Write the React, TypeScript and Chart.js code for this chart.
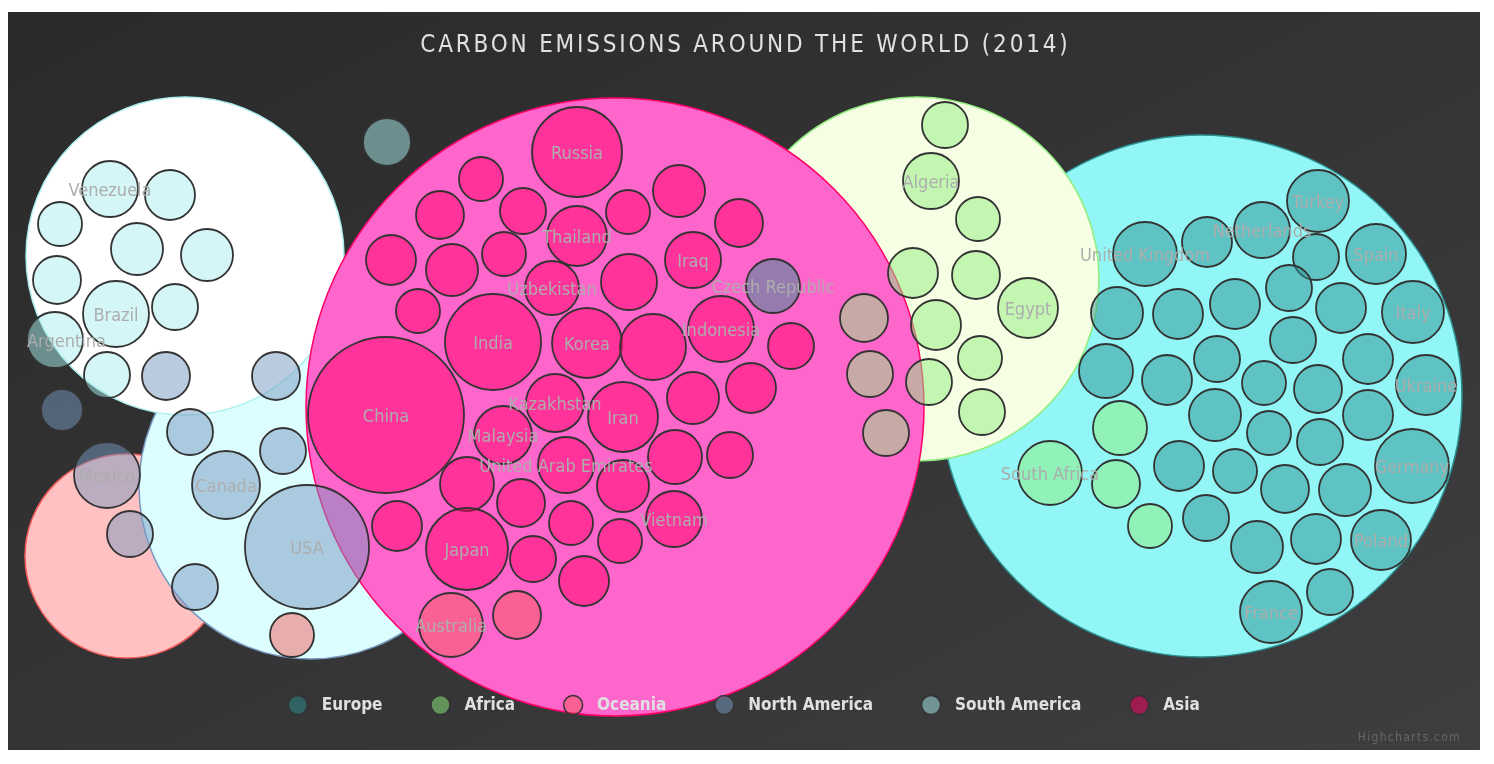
import React, { useEffect, useRef } from 'react';
import Chart from 'chart.js/auto';

type Bubble = [number, number, number, string?];

const regions = ['Europe', 'Africa', 'Oceania', 'North America', 'South America', 'Asia'];
const regionColors = ['#2b908f', '#90ee7e', '#f45b5b', '#7798bf', '#aaeeee', '#ff0066'];

// packed parent circles, one per region
const parentX = [1201, 917, 127, 311, 185, 615];
const parentY = [396, 279, 556, 487, 256, 407];
const parentR = [261, 182, 102, 172, 159, 309];

const europe: Bubble[] = [
  [1145, 254, 32, 'United Kingdom'], [1207, 242, 25], [1262, 230, 28, 'Netherlands'],
  [1318, 201, 31, 'Turkey'], [1316, 257, 23], [1376, 254, 30, 'Spain'],
  [1117, 313, 26], [1178, 314, 25], [1235, 304, 25], [1289, 288, 23], [1341, 308, 25],
  [1413, 312, 31, 'Italy'], [1106, 371, 27], [1167, 380, 25], [1217, 359, 23],
  [1293, 340, 23], [1368, 359, 25], [1264, 383, 22], [1318, 389, 24],
  [1426, 385, 30, 'Ukraine'], [1215, 415, 26], [1269, 433, 22], [1320, 442, 23],
  [1368, 415, 25], [1412, 466, 37, 'Germany'], [1179, 466, 25], [1235, 471, 22],
  [1285, 489, 24], [1345, 490, 26], [1206, 518, 23], [1257, 547, 26], [1316, 539, 25],
  [1381, 540, 30, 'Poland'], [1271, 612, 31, 'France'], [1330, 592, 23],
  [773, 286, 27, 'Czech Republic'],
];

const africa: Bubble[] = [
  [945, 125, 23], [931, 181, 28, 'Algeria'], [978, 219, 22], [913, 273, 25],
  [976, 275, 24], [1028, 308, 30, 'Egypt'], [936, 325, 25], [980, 358, 22],
  [929, 382, 23], [982, 412, 23], [864, 318, 24], [870, 374, 23], [886, 433, 23],
  [1050, 473, 32, 'South Africa'], [1120, 428, 27], [1116, 484, 24], [1150, 526, 22],
];

const oceania: Bubble[] = [
  [292, 635, 22], [451, 625, 32, 'Australia'], [517, 615, 24],
];

const northAmerica: Bubble[] = [
  [166, 376, 24], [276, 376, 24], [62, 410, 21], [190, 432, 23], [283, 451, 23],
  [226, 485, 34, 'Canada'], [107, 475, 33, 'Mexico'], [130, 534, 23],
  [307, 547, 62, 'USA'], [195, 587, 23],
];

const southAmerica: Bubble[] = [
  [110, 189, 28, 'Venezuela'], [170, 195, 25], [60, 224, 22], [137, 249, 26],
  [207, 255, 26], [57, 280, 24], [116, 314, 33, 'Brazil'], [175, 307, 23],
  [55, 340, 28, 'Argentina'], [107, 375, 23], [387, 142, 24],
];

const asia: Bubble[] = [
  [577, 152, 45, 'Russia'], [481, 179, 22], [440, 215, 24], [523, 211, 23],
  [577, 236, 30, 'Thailand'], [391, 260, 25], [452, 270, 26], [504, 254, 22],
  [552, 288, 27, 'Uzbekistan'], [418, 311, 22], [493, 342, 48, 'India'],
  [587, 343, 35, 'Korea'], [386, 415, 78, 'China'], [679, 191, 26], [628, 212, 22],
  [739, 223, 24], [693, 260, 28, 'Iraq'], [629, 282, 28], [653, 347, 33],
  [721, 329, 33, 'Indonesia'], [791, 346, 23], [693, 398, 26], [751, 388, 25],
  [555, 403, 29, 'Kazakhstan'], [623, 417, 35, 'Iran'], [503, 435, 29, 'Malaysia'],
  [467, 484, 27], [566, 465, 28, 'United Arab Emirates'], [623, 486, 26],
  [397, 526, 25], [521, 503, 24], [571, 523, 22], [467, 549, 41, 'Japan'],
  [533, 559, 23], [620, 541, 22], [584, 581, 25], [675, 457, 27], [730, 455, 23],
  [674, 519, 28, 'Vietnam'],
];

const children = [europe, africa, oceania, northAmerica, southAmerica, asia];

const TITLE = 'CARBON EMISSIONS AROUND THE WORLD (2014)';
const CREDITS = 'Highcharts.com';
const FONT = "'DejaVu Sans Condensed', 'Liberation Sans Narrow', sans-serif";

const rgb = (hex: string) => {
  const n = parseInt(hex.slice(1), 16);
  return [(n >> 16) & 255, (n >> 8) & 255, n & 255];
};
const brighten = (hex: string, amt: number) =>
  `rgb(${rgb(hex).map(v => Math.min(255, Math.round(v + amt * 255))).join(',')})`;
const fade = (hex: string, a: number) => `rgba(${rgb(hex).join(',')},${a})`;

const decorPlugin = {
  id: 'decor',
  beforeDraw(chart: any) {
    const { ctx, width, height } = chart;
    ctx.save();
    ctx.scale(width, height);
    const g = ctx.createLinearGradient(0, 0, 1, 1);
    g.addColorStop(0, '#2a2a2b');
    g.addColorStop(1, '#3e3e40');
    ctx.fillStyle = g;
    ctx.fillRect(0, 0, 1, 1);
    ctx.restore();
  },
  afterDatasetsDraw(chart: any) {
    const { ctx } = chart;
    const xs = chart.scales.x;
    const ys = chart.scales.y;
    ctx.save();
    ctx.font = `18px ${FONT}`;
    ctx.fillStyle = '#adadad';
    ctx.textAlign = 'center';
    ctx.textBaseline = 'middle';
    chart.data.datasets.forEach((ds: any) => {
      ds.data.forEach((p: any) => {
        if (!p.name) return;
        const w = ctx.measureText(p.name).width;
        // keep labels inside the plot, like the original justify
        const x = Math.max(xs.getPixelForValue(p.x), 19 + w / 2);
        ctx.fillText(p.name, x, ys.getPixelForValue(p.y) + 2);
      });
    });
    ctx.restore();
  },
  afterDraw(chart: any) {
    const { ctx, width } = chart;
    ctx.save();
    // title
    ctx.fillStyle = '#e0e0e3';
    ctx.font = `24px ${FONT}`;
    ctx.textAlign = 'center';
    ctx.textBaseline = 'middle';
    (ctx as any).letterSpacing = '2.8px';
    ctx.fillText(TITLE, width / 2 + 1.4, 34);
    (ctx as any).letterSpacing = '0px';

    // legend
    ctx.font = `bold 17px ${FONT}`;
    ctx.textAlign = 'left';
    const widths = regions.map(r => ctx.measureText(r).width);
    const span = 9.5 + widths.reduce((s, w) => s + 24 + w, 0) + 58 * (regions.length - 1);
    let cx = width / 2 - span / 2 + 9.5;
    const ly = 693;
    regions.forEach((r, i) => {
      ctx.beginPath();
      ctx.arc(cx, ly, 9.5, 0, Math.PI * 2);
      ctx.fillStyle = fade(regionColors[i], 0.5);
      ctx.fill();
      ctx.lineWidth = 1.5;
      ctx.strokeStyle = '#333333';
      ctx.stroke();
      ctx.fillStyle = '#e0e0e3';
      ctx.fillText(r, cx + 24, ly + 1);
      cx += 24 + widths[i] + 58;
    });

    // credits
    ctx.font = `12px ${FONT}`;
    ctx.fillStyle = '#666666';
    ctx.textAlign = 'right';
    ctx.textBaseline = 'alphabetic';
    (ctx as any).letterSpacing = '1.3px';
    ctx.fillText(CREDITS, width - 19, 729);
    ctx.restore();
  },
};

const App: React.FC = () => {
  const canvasRef = useRef<HTMLCanvasElement>(null);

  useEffect(() => {
    if (!canvasRef.current) return;

    const parentSets = regions.map((name, i) => ({
      label: name + ' (group)',
      data: [{ x: parentX[i], y: parentY[i], r: parentR[i] }],
      backgroundColor: brighten(regionColors[i], 0.4),
      borderColor: regionColors[i],
      borderWidth: 1.5,
      clip: false as const,
      order: 100 - i,
    }));

    const childSets = regions.map((name, i) => ({
      label: name,
      data: children[i].map(([x, y, r, n]) => ({ x, y, r, name: n })),
      backgroundColor: fade(regionColors[i], 0.5),
      borderColor: '#333333',
      borderWidth: 1.8,
      clip: false as const,
      order: 50 - i,
    }));

    const chart = new Chart(canvasRef.current, {
      type: 'bubble',
      data: { datasets: [...parentSets, ...childSets] as any },
      options: {
        animation: false,
        responsive: true,
        maintainAspectRatio: false,
        events: [],
        layout: { padding: 0, autoPadding: false },
        plugins: {
          legend: { display: false },
          tooltip: { enabled: false },
          title: { display: false },
        },
        scales: {
          x: { type: 'linear', min: 8, max: 1480, display: false },
          y: { type: 'linear', min: 12, max: 750, reverse: true, display: false },
        },
      },
      plugins: [decorPlugin],
    });

    return () => chart.destroy();
  }, []);

  return (
    <div style={{ paddingTop: 4 }}>
      <div style={{ position: 'relative', width: 1472, height: 738 }}>
        <canvas ref={canvasRef}></canvas>
      </div>
    </div>
  );
};

export default App;
